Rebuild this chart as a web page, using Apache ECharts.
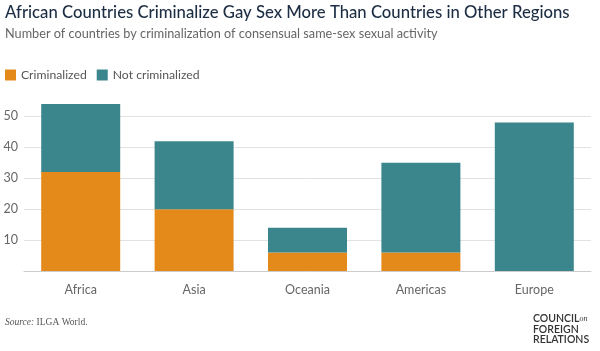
<!DOCTYPE html>
<html>
<head>
<meta charset="utf-8">
<script src="https://cdn.jsdelivr.net/npm/echarts@6/dist/echarts.min.js"></script>
<style>
  html, body { margin: 0; padding: 0; background: #fff; }
  #chart { width: 600px; height: 351px; }
</style>
</head>
<body>
<div id="chart"></div>
<script>
// data
var regions = ['Africa', 'Asia', 'Oceania', 'Americas', 'Europe'];
var criminalized = [32, 20, 6, 6, 0];
var notCriminalized = [22, 22, 8, 29, 48];
var yTicks = [10, 20, 30, 40, 50];

var chart = echarts.init(document.getElementById('chart'));

var font = 'Lato, "Noto Sans", sans-serif';

var option = {
    animation: false,
    title: [{
        text: 'African Countries Criminalize Gay Sex More Than Countries in Other Regions',
        left: 5, top: 4, padding: 0,
        textStyle: { fontFamily: font, fontSize: 16.7, fontWeight: 500, color: '#1c2d44' }
    }, {
        text: 'Number of countries by criminalization of consensual same-sex sexual activity',
        left: 5, top: 27, padding: 0,
        textStyle: { fontFamily: font, fontSize: 12.7, fontWeight: 'normal', color: '#666' }
    }],
    legend: {
        left: 5, top: 69, padding: 0,
        icon: 'rect', itemWidth: 11, itemHeight: 11, itemGap: 10,
        textStyle: { fontFamily: font, fontSize: 12.2, color: '#555' },
        data: ['Criminalized', 'Not criminalized']
    },
    grid: { left: 24, right: 9, top: 85.5, bottom: 80 },
    xAxis: {
        type: 'category',
        data: regions,
        axisLine: { lineStyle: { color: '#ccc' } },
        axisTick: { alignWithLabel: true, length: 4, lineStyle: { color: '#bbb' } },
        axisLabel: { fontFamily: font, fontSize: 12.5, color: '#666', margin: 12 }
    },
    yAxis: {
        type: 'value',
        min: 0, max: 60, interval: 10,
        axisLine: { show: false },
        axisTick: { show: false },
        axisLabel: {
            fontFamily: font, fontSize: 12.5, color: '#666', margin: 6,
            formatter: function (v) { return yTicks.indexOf(v) >= 0 ? v : ''; }
        },
        splitLine: {
            lineStyle: { color: ['#e2e2e2', '#e2e2e2', '#e2e2e2', '#e2e2e2', '#e2e2e2', '#e2e2e2', 'rgba(0,0,0,0)'] }
        }
    },
    series: [{
        name: 'Criminalized',
        type: 'bar',
        stack: 'total',
        barWidth: 79,
        itemStyle: { color: '#e38a1a' },
        data: criminalized
    }, {
        name: 'Not criminalized',
        type: 'bar',
        stack: 'total',
        barWidth: 79,
        itemStyle: { color: '#3b868d' },
        data: notCriminalized
    }],
    graphic: [{
        type: 'text', left: 5, top: 317,
        style: {
            text: '{i|Source:} ILGA World.',
            rich: {
                i: { fontFamily: '"Liberation Serif", serif', fontStyle: 'italic', fontSize: 9.5, fill: '#555' }
            },
            font: '9.5px "Liberation Serif", serif',
            fill: '#555'
        }
    }, {
        type: 'text', left: 533, top: 313,
        style: {
            text: 'COUNCIL{s|on}\nFOREIGN\nRELATIONS',
            font: '600 10.5px Lato, "Noto Sans", sans-serif',
            lineHeight: 10.7,
            fill: '#333',
            rich: { s: { fontFamily: '"Liberation Serif", serif', fontStyle: 'italic', fontSize: 8, fill: '#333' } }
        }
    }]
};

chart.setOption(option);
</script>
</body>
</html>
